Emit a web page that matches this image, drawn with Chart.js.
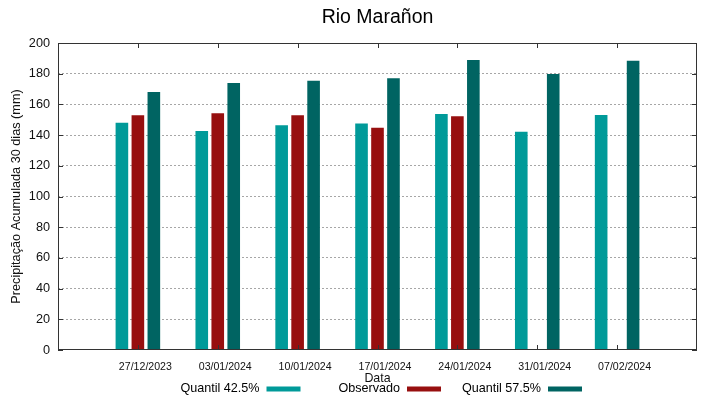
<!DOCTYPE html>
<html>
<head>
<meta charset="utf-8">
<script src="https://cdn.jsdelivr.net/npm/chart.js@4/dist/chart.umd.min.js"></script>
<style>
  html, body { margin: 0; padding: 0; background: #fff; }
  #wrap { width: 719px; height: 399px; }
</style>
</head>
<body>
<div id="wrap"><canvas id="c" width="719" height="399"></canvas></div>
<script>
const chartTitle = 'Rio Marañon';
const yAxisTitle = 'Precipitação Acumulada 30 dias (mm)';
const xAxisTitle = 'Data';
const dates = ['27/12/2023', '03/01/2024', '10/01/2024', '17/01/2024', '24/01/2024', '31/01/2024', '07/02/2024'];
const seriesNames = ['Quantil 42.5%', 'Observado', 'Quantil 57.5%'];
const quantil425 = [148, 142.7, 146.4, 147.5, 153.7, 142.2, 153.1];
const observado = [153, 154.2, 153, 144.8, 152.2, null, null];
const quantil575 = [168, 173.9, 175.4, 177, 188.9, 179.8, 188.5];
const yTicks = [0, 20, 40, 60, 80, 100, 120, 140, 160, 180, 200];
const seriesColors = ['#009a99', '#970f0f', '#006462'];

const FONT = "'Liberation Sans', Arial, sans-serif";
const xLabels = [''].concat(dates, ['']);
const pad = arr => [null].concat(arr, [null]);

const framePlugin = {
  id: 'frame',
  afterDraw(chart) {
    const ctx = chart.ctx;
    const a = chart.chartArea;
    const ys = chart.scales.y, xs = chart.scales.x;
    ctx.save();
    // frame
    ctx.strokeStyle = '#333';
    ctx.lineWidth = 1;
    ctx.setLineDash([]);
    ctx.strokeRect(a.left + 0.5, a.top + 0.5, a.right - a.left - 1, a.bottom - a.top - 1);
    // inside ticks
    ctx.beginPath();
    yTicks.forEach(v => {
      const y = Math.round(ys.getPixelForValue(v)) + 0.5;
      ctx.moveTo(a.left, y); ctx.lineTo(a.left + 5, y);
      ctx.moveTo(a.right - 5, y); ctx.lineTo(a.right, y);
    });
    dates.forEach((d, i) => {
      const x = Math.round(xs.getPixelForValue(i + 1)) + 0.5;
      ctx.moveTo(x, a.bottom); ctx.lineTo(x, a.bottom - 5);
      ctx.moveTo(x, a.top); ctx.lineTo(x, a.top + 5);
    });
    ctx.stroke();
    // title
    ctx.fillStyle = '#000';
    ctx.font = '19.5px ' + FONT;
    ctx.textAlign = 'center';
    ctx.textBaseline = 'alphabetic';
    ctx.fillText(chartTitle, (a.left + a.right) / 2, 22.5);
    // legend (text then sample, gnuplot style)
    const swatchX = [266.5, 407, 548];
    ctx.font = '12.6px ' + FONT;
    ctx.textAlign = 'right';
    chart.data.datasets.forEach((ds, i) => {
      ctx.fillStyle = '#000';
      ctx.fillText(ds.label, swatchX[i] - 7, 392);
      ctx.fillStyle = ds.backgroundColor;
      ctx.fillRect(swatchX[i], 386.5, 34, 5);
    });
    ctx.restore();
  }
};

new Chart(document.getElementById('c'), {
  type: 'bar',
  data: {
    labels: xLabels,
    datasets: [
      { label: seriesNames[0], data: pad(quantil425), backgroundColor: seriesColors[0] },
      { label: seriesNames[1], data: pad(observado), backgroundColor: seriesColors[1] },
      { label: seriesNames[2], data: pad(quantil575), backgroundColor: seriesColors[2] }
    ]
  },
  options: {
    responsive: false,
    devicePixelRatio: 1,
    animation: false,
    layout: { padding: { top: 43, right: 22, left: 0, bottom: 0 } },
    datasets: { bar: { categoryPercentage: 0.6, barPercentage: 0.79, borderWidth: 0 } },
    plugins: {
      legend: { display: false },
      title: { display: false },
      tooltip: { enabled: false }
    },
    scales: {
      x: {
        type: 'category',
        offset: false,
        grid: { display: false, drawTicks: false },
        border: { display: false },
        ticks: {
          autoSkip: false, maxRotation: 0, minRotation: 0,
          padding: 11, labelOffset: 7.5,
          color: '#111', font: { family: FONT, size: 10.6 }
        },
        title: {
          display: true, text: xAxisTitle, color: '#111',
          font: { family: FONT, size: 12.4 }, padding: { top: 0, bottom: 13 }
        },
        afterFit(scale) { scale.height = 49; }
      },
      y: {
        min: 0, max: 200,
        afterBuildTicks(scale) { scale.ticks = yTicks.map(v => ({ value: v })); },
        grid: {
          drawTicks: false,
          color: c => (c.tick && (c.tick.value === 0 || c.tick.value === 200)) ? 'rgba(0,0,0,0)' : '#a6a6a6',
          lineWidth: 1
        },
        border: { display: false, dash: [2, 2] },
        ticks: { padding: 8, color: '#111', font: { family: FONT, size: 12.7 } },
        title: {
          display: true, text: yAxisTitle, color: '#111',
          font: { family: FONT, size: 12.7 }, padding: { top: 9, bottom: 0 }
        },
        afterFit(scale) { scale.width = 58; }
      }
    }
  },
  plugins: [framePlugin]
});
</script>
</body>
</html>
